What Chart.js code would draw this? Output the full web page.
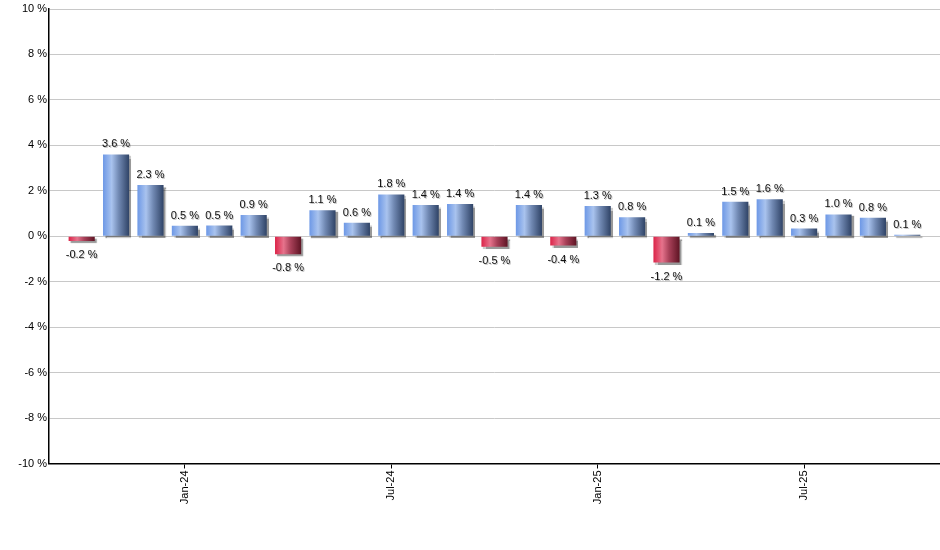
<!DOCTYPE html>
<html>
<head>
<meta charset="utf-8">
<script src="https://cdn.jsdelivr.net/npm/chart.js@4/dist/chart.umd.min.js"></script>
<style>
  html, body { margin: 0; padding: 0; background: #fff; }
  canvas { display: block; }
</style>
</head>
<body>
<canvas id="myChart" width="940" height="550"></canvas>
<script>
Chart.defaults.font.family = "'Liberation Sans', Arial, sans-serif";
Chart.defaults.font.size = 11;
Chart.defaults.color = "#000";

// monthly change, Oct-23 .. Oct-25
const months = [
	"Oct-23", "Nov-23", "Dec-23", "Jan-24", "Feb-24", "Mar-24", "Apr-24",
	"May-24", "Jun-24", "Jul-24", "Aug-24", "Sep-24", "Oct-24", "Nov-24",
	"Dec-24", "Jan-25", "Feb-25", "Mar-25", "Apr-25", "May-25", "Jun-25",
	"Jul-25", "Aug-25", "Sep-25", "Oct-25",
];
const changes = [
	-0.21, 3.6, 2.26, 0.46, 0.47, 0.94, -0.79,
	1.14, 0.59, 1.84, 1.38, 1.42, -0.46, 1.38,
	-0.41, 1.33, 0.84, -1.16, 0.14, 1.52, 1.63,
	0.34, 0.96, 0.81, 0.07,
];
const tickMonths = ["Jan-24", "Jul-24", "Jan-25", "Jul-25"];
const yTicks = [-10, -8, -6, -4, -2, 0, 2, 4, 6, 8, 10];

const points = changes.map((v, i) => ({ x: i, y: v }));

// horizontal gradient + drop shadow on every bar
const barLook = {
	id: "barLook",
	beforeDatasetsDraw(chart) {
		const ctx = chart.ctx;
		chart.getDatasetMeta(0).data.forEach((el, i) => {
			const { x, width } = el.getProps(["x", "width"], true);
			const g = ctx.createLinearGradient(x - width / 2, 0, x + width / 2, 0);
			if (changes[i] >= 0) {
				g.addColorStop(0, "#6d98e6");
				g.addColorStop(0.33, "#a9c3ee");
				g.addColorStop(0.6, "#7189b3");
				g.addColorStop(1, "#2f4366");
			} else {
				g.addColorStop(0, "#dc2348");
				g.addColorStop(0.33, "#e6738c");
				g.addColorStop(0.6, "#a84058");
				g.addColorStop(1, "#5e1424");
			}
			el.options = Object.assign({}, el.options, { backgroundColor: g });
		});
		ctx.save();
		ctx.shadowColor = "rgba(0,0,0,0.4)";
		ctx.shadowOffsetX = 2;
		ctx.shadowOffsetY = 2;
		ctx.shadowBlur = 1;
	},
	afterDatasetsDraw(chart) {
		const ctx = chart.ctx;
		ctx.restore();
		ctx.save();
		ctx.font = "11px 'Liberation Sans', Arial, sans-serif";
		ctx.fillStyle = "#111";
		ctx.textAlign = "center";
		ctx.textBaseline = "alphabetic";
		ctx.shadowColor = "rgba(0,0,0,0.25)";
		ctx.shadowOffsetX = 1;
		ctx.shadowOffsetY = 1;
		chart.getDatasetMeta(0).data.forEach((el, i) => {
			const v = changes[i];
			const txt = v.toFixed(1) + " %";
			const ty = v >= 0 ? el.y - 7 : el.y + 17;
			ctx.fillText(txt, el.x, ty);
		});
		ctx.restore();
	},
};

const data = {
	datasets: [
		{
			data: points,
			backgroundColor: "#6d98e6",
			borderWidth: 0,
			barPercentage: 0.76,
			categoryPercentage: 1,
		},
	],
};

const config = {
	type: "bar",
	data,
	plugins: [barLook],
	options: {
		responsive: false,
		animation: false,
		layout: {
			padding: { top: 9, right: 0, left: 0, bottom: 0 },
		},
		plugins: {
			legend: { display: false },
			tooltip: { enabled: false },
		},
		scales: {
			x: {
				type: "linear",
				offset: false,
				bounds: "ticks",
				min: -0.95,
				max: 24.95,
				afterBuildTicks: (scale) => {
					scale.ticks = tickMonths.map((m) => ({ value: months.indexOf(m) }));
				},
				afterFit: (scale) => {
					scale.height = 86.5;
				},
				ticks: {
					minRotation: 90,
					maxRotation: 90,
					padding: 2,
					autoSkip: false,
					callback: (val) => months[val],
				},
				grid: {
					offset: false,
					drawOnChartArea: false,
					tickLength: 5,
					color: "#000",
				},
				border: { color: "#000", width: 1.5 },
			},
			y: {
				min: -10,
				max: 10,
				afterBuildTicks: (scale) => {
					scale.ticks = yTicks.map((v) => ({ value: v }));
				},
				afterFit: (scale) => {
					scale.width = 49;
				},
				ticks: {
					padding: 2,
					callback: (val) => `${val} %`,
				},
				grid: {
					color: "#c8c8c8",
					drawTicks: false,
				},
				border: { color: "#000", width: 1.5 },
			},
		},
	},
};

const ctx = document.getElementById("myChart").getContext("2d");
new Chart(ctx, config);
</script>
</body>
</html>
